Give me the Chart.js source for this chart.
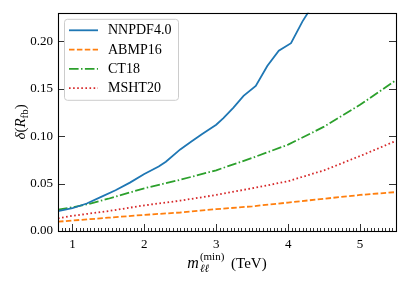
<!DOCTYPE html>
<html>
<head>
<meta charset="utf-8">
<script src="https://cdn.jsdelivr.net/npm/chart.js@4"></script>
<style>
  html, body { margin: 0; padding: 0; background: #fff; }
</style>
</head>
<body>
<canvas id="chart" width="407" height="285"></canvas>
<script>
// values
const nnpdfX = [0.8, 1.0, 1.2, 1.4, 1.6, 1.8, 2.0, 2.2, 2.3, 2.5, 2.65, 2.8, 3.0, 3.1, 3.24, 3.38, 3.55, 3.71, 3.87, 4.04, 4.2, 4.4];
const nnpdfY = [0.021, 0.024, 0.029, 0.036, 0.043, 0.051, 0.060, 0.068, 0.073, 0.086, 0.094, 0.102, 0.112, 0.119, 0.130, 0.1425, 0.153, 0.174, 0.190, 0.198, 0.221, 0.245];

const abmpX = [0.8, 1.0, 1.5, 2.0, 2.5, 3.0, 3.5, 4.0, 4.5, 5.0, 5.5];
const abmpY = [0.0098, 0.011, 0.014, 0.017, 0.0195, 0.023, 0.026, 0.030, 0.034, 0.038, 0.041];

const ct18X = [0.8, 1.0, 1.2, 1.5, 2.0, 2.5, 3.0, 3.5, 4.0, 4.5, 5.0, 5.5];
const ct18Y = [0.0225, 0.025, 0.028, 0.034, 0.045, 0.054, 0.064, 0.077, 0.091, 0.110, 0.133, 0.159];

const mshtX = [0.8, 1.0, 1.5, 2.0, 2.5, 3.0, 3.5, 4.0, 4.5, 5.0, 5.5];
const mshtY = [0.0133, 0.016, 0.021, 0.027, 0.032, 0.038, 0.045, 0.0525, 0.064, 0.079, 0.095];

const seriesNames = ["NNPDF4.0", "ABMP16", "CT18", "MSHT20"];

const xTickValues = [1, 2, 3, 4, 5];
const xTickLabels = ["1", "2", "3", "4", "5"];
const yTickValues = [0, 0.05, 0.10, 0.15, 0.20];
const yTickLabels = ["0.00", "0.05", "0.10", "0.15", "0.20"];

const FONT = "'Liberation Serif', 'Times New Roman', serif";

function pts(xs, ys) {
  return xs.map((x, i) => ({ x: x, y: ys[i] }));
}

// ticks pointing inward + frame
const frameTicks = {
  id: "frameTicks",
  afterDatasetsDraw(chart) {
    const ctx = chart.ctx;
    const a = chart.chartArea;
    const xs = chart.scales.x;
    const ys = chart.scales.y;
    ctx.save();
    ctx.strokeStyle = "#333";
    ctx.lineWidth = 1;
    ctx.beginPath();
    // minor x ticks, every 0.05
    for (let v = 0.8; v <= 5.5001; v += 0.05) {
      const px = Math.round(xs.getPixelForValue(v)) + 0.5;
      ctx.moveTo(px, a.bottom);
      ctx.lineTo(px, a.bottom - 3);
    }
    for (const v of xTickValues) {
      const px = Math.round(xs.getPixelForValue(v)) + 0.5;
      ctx.moveTo(px, a.bottom);
      ctx.lineTo(px, a.bottom - 7);
    }
    for (const v of yTickValues) {
      const py = Math.round(ys.getPixelForValue(v)) + 0.5;
      ctx.moveTo(a.left, py);
      ctx.lineTo(a.left + 7, py);
      ctx.moveTo(a.right, py);
      ctx.lineTo(a.right - 7, py);
    }
    ctx.stroke();
    ctx.strokeStyle = "#000";
    ctx.lineWidth = 1.1;
    ctx.strokeRect(Math.round(a.left) + 0.5, Math.round(a.top) + 0.5,
      Math.round(a.right - a.left), Math.round(a.bottom - a.top));
    ctx.restore();
  }
};

// legend box like matplotlib
const boxLegend = {
  id: "boxLegend",
  afterDraw(chart) {
    const ctx = chart.ctx;
    const a = chart.chartArea;
    const x0 = a.left + 6, y0 = a.top + 6, w = 114, h = 81;
    ctx.save();
    ctx.beginPath();
    ctx.roundRect(x0 + 0.5, y0 + 0.5, w, h, 3);
    ctx.fillStyle = "rgba(255,255,255,0.8)";
    ctx.fill();
    ctx.strokeStyle = "#cccccc";
    ctx.lineWidth = 1;
    ctx.stroke();
    chart.data.datasets.forEach((ds, i) => {
      const yy = y0 + 11.5 + i * 19.3;
      ctx.beginPath();
      ctx.setLineDash(ds.borderDash || []);
      ctx.strokeStyle = ds.borderColor;
      ctx.lineWidth = ds.borderWidth;
      ctx.moveTo(x0 + 5, yy);
      ctx.lineTo(x0 + 34, yy);
      ctx.stroke();
      ctx.setLineDash([]);
      ctx.fillStyle = "#000";
      ctx.font = "14px " + FONT;
      ctx.textBaseline = "middle";
      ctx.textAlign = "left";
      ctx.fillText(ds.label, x0 + 44, yy + 0.5);
    });
    ctx.restore();
  }
};

// axis titles with sub/superscripts
const axisTitles = {
  id: "axisTitles",
  afterDraw(chart) {
    const ctx = chart.ctx;
    const a = chart.chartArea;
    ctx.save();
    ctx.fillStyle = "#000";
    ctx.textAlign = "left";
    ctx.textBaseline = "alphabetic";

    // x title: m_{ll}^{(min)} (TeV)
    const fMain = "italic 16px " + FONT;
    const fSmall = "11px " + FONT;
    const fSmallIt = "italic 11px " + FONT;
    const fUp = "15px " + FONT;
    ctx.font = fMain; const wm = ctx.measureText("m").width;
    ctx.font = fSmallIt; const wsub = ctx.measureText("ℓℓ").width;
    ctx.font = fSmall; const wsup = ctx.measureText("(min)").width;
    ctx.font = fUp; const wt = ctx.measureText(" (TeV)").width;
    const wScript = Math.max(wsub, wsup);
    const total = wm + 1 + wScript + 3 + wt;
    let x = (a.left + a.right) / 2 - total / 2;
    const base = 268;
    ctx.font = fMain; ctx.fillText("m", x, base);
    x += wm + 1;
    ctx.font = fSmall; ctx.fillText("(min)", x, base - 8);
    ctx.font = fSmallIt; ctx.fillText("ℓℓ", x, base + 4);
    x += wScript + 3;
    ctx.font = fUp; ctx.fillText(" (TeV)", x, base);

    // y title: delta(R_fb)
    ctx.translate(25, (a.top + a.bottom) / 2);
    ctx.rotate(-Math.PI / 2);
    const parts = [
      { t: "δ", f: "italic 15px " + FONT, dy: 0 },
      { t: "(", f: "15px " + FONT, dy: 0 },
      { t: "R", f: "italic 15px " + FONT, dy: 0 },
      { t: "fb", f: "11px " + FONT, dy: 3 },
      { t: ")", f: "15px " + FONT, dy: 0 }
    ];
    let tw = 0;
    parts.forEach(p => { ctx.font = p.f; p.w = ctx.measureText(p.t).width; tw += p.w; });
    let xx = -tw / 2;
    parts.forEach(p => { ctx.font = p.f; ctx.fillText(p.t, xx, p.dy); xx += p.w; });
    ctx.restore();
  }
};

new Chart(document.getElementById("chart"), {
  type: "line",
  data: {
    datasets: [
      { label: seriesNames[0], data: pts(nnpdfX, nnpdfY), borderColor: "#1f77b4", borderWidth: 1.8 },
      { label: seriesNames[1], data: pts(abmpX, abmpY), borderColor: "#ff7f0e", borderWidth: 1.8, borderDash: [5.5, 2.4] },
      { label: seriesNames[2], data: pts(ct18X, ct18Y), borderColor: "#2ca02c", borderWidth: 1.8, borderDash: [9.6, 2.4, 1.5, 2.4] },
      { label: seriesNames[3], data: pts(mshtX, mshtY), borderColor: "#d62728", borderWidth: 1.8, borderDash: [1.6, 2.5] }
    ]
  },
  options: {
    responsive: false,
    devicePixelRatio: 1,
    animation: false,
    events: [],
    layout: { padding: { top: 12, right: 11, left: 0, bottom: 0 } },
    elements: { point: { radius: 0 }, line: { tension: 0, fill: false } },
    plugins: { legend: { display: false }, tooltip: { enabled: false } },
    scales: {
      x: {
        type: "linear",
        min: 0.8,
        max: 5.5,
        afterBuildTicks: s => { s.ticks = xTickValues.map(v => ({ value: v })); },
        afterFit: s => { s.height = 54; },
        grid: { display: false, drawTicks: false },
        border: { display: false },
        ticks: {
          padding: 6,
          color: "#000",
          font: { family: FONT, size: 13 },
          maxRotation: 0,
          autoSkip: false,
          callback: v => xTickLabels[xTickValues.indexOf(v)]
        }
      },
      y: {
        type: "linear",
        min: 0,
        max: 0.23,
        afterBuildTicks: s => { s.ticks = yTickValues.map(v => ({ value: v })); },
        afterFit: s => { s.width = 58; },
        grid: { display: false, drawTicks: false },
        border: { display: false },
        ticks: {
          padding: 5,
          color: "#000",
          font: { family: FONT, size: 13 },
          autoSkip: false,
          callback: v => yTickLabels[yTickValues.indexOf(v)]
        }
      }
    }
  },
  plugins: [frameTicks, boxLegend, axisTitles]
});
</script>
</body>
</html>
